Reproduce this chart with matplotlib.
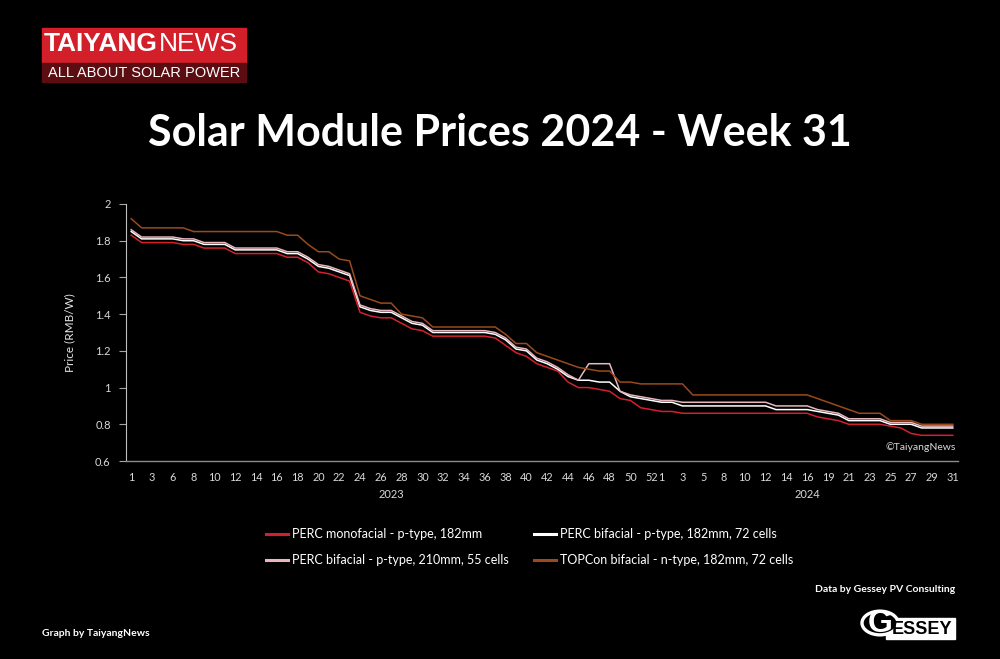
import matplotlib
matplotlib.use('Agg')
import matplotlib.pyplot as plt
from matplotlib.patches import Rectangle, Circle

# week labels: 2023 (one week missing around CNY) and 2024
weeks_2023 = [1, 2, 3, 5, 6, 7, 8, 9, 10, 11, 12, 13, 14, 15, 16, 17, 18, 19, 20,
              21, 22, 23, 24, 25, 26, 27, 28, 29, 30, 31, 32, 33, 34, 35, 36, 37,
              38, 39, 40, 41, 42, 43, 44, 45, 46, 47, 48, 49, 50, 51, 52]
weeks_2024 = [1, 2, 3, 4, 5, 7, 8, 9, 10, 11, 12, 13, 14, 15, 16, 18, 19, 20,
              21, 22, 23, 24, 25, 26, 27, 28, 29, 30, 31]
years = ['2023', '2024']

# prices RMB/W
perc_mono_182 = [1.83, 1.79, 1.79, 1.79, 1.79, 1.78, 1.78, 1.76, 1.76, 1.76,
                 1.73, 1.73, 1.73, 1.73, 1.73, 1.71, 1.71, 1.68, 1.63, 1.62,
                 1.60, 1.58, 1.41, 1.39, 1.38, 1.38, 1.35, 1.32, 1.31, 1.28,
                 1.28, 1.28, 1.28, 1.28, 1.28, 1.27, 1.23, 1.19, 1.17, 1.13,
                 1.11, 1.09, 1.03, 1.00, 1.00, 0.99, 0.98, 0.94, 0.93, 0.89,
                 0.88, 0.87, 0.87, 0.86, 0.86, 0.86, 0.86, 0.86, 0.86, 0.86,
                 0.86, 0.86, 0.86, 0.86, 0.86, 0.86, 0.84, 0.83, 0.82, 0.80,
                 0.80, 0.80, 0.80, 0.79, 0.78, 0.75, 0.74, 0.74, 0.74, 0.74]
perc_bif_182 = [1.85, 1.81, 1.81, 1.81, 1.81, 1.80, 1.80, 1.78, 1.78, 1.78,
                1.75, 1.75, 1.75, 1.75, 1.75, 1.73, 1.73, 1.70, 1.66, 1.65,
                1.63, 1.61, 1.44, 1.42, 1.41, 1.41, 1.38, 1.35, 1.34, 1.30,
                1.30, 1.30, 1.30, 1.30, 1.30, 1.29, 1.26, 1.21, 1.20, 1.15,
                1.13, 1.10, 1.06, 1.04, 1.04, 1.03, 1.03, 0.98, 0.95, 0.94,
                0.93, 0.92, 0.92, 0.90, 0.90, 0.90, 0.90, 0.90, 0.90, 0.90,
                0.90, 0.90, 0.88, 0.88, 0.88, 0.88, 0.87, 0.86, 0.85, 0.82,
                0.82, 0.82, 0.82, 0.80, 0.80, 0.80, 0.78, 0.78, 0.78, 0.78]
perc_bif_210 = [1.86, 1.82, 1.82, 1.82, 1.82, 1.81, 1.81, 1.79, 1.79, 1.79,
                1.76, 1.76, 1.76, 1.76, 1.76, 1.74, 1.74, 1.71, 1.67, 1.66,
                1.64, 1.62, 1.45, 1.43, 1.42, 1.42, 1.39, 1.36, 1.35, 1.31,
                1.31, 1.31, 1.31, 1.31, 1.31, 1.30, 1.27, 1.22, 1.21, 1.16,
                1.14, 1.11, 1.07, 1.04, 1.13, 1.13, 1.13, 0.98, 0.96, 0.95,
                0.94, 0.93, 0.93, 0.92, 0.92, 0.92, 0.92, 0.92, 0.92, 0.92,
                0.92, 0.92, 0.90, 0.90, 0.90, 0.90, 0.88, 0.87, 0.86, 0.83,
                0.83, 0.83, 0.83, 0.81, 0.81, 0.81, 0.79, 0.79, 0.79, 0.79]
topcon_182 = [1.92, 1.87, 1.87, 1.87, 1.87, 1.87, 1.85, 1.85, 1.85, 1.85,
              1.85, 1.85, 1.85, 1.85, 1.85, 1.83, 1.83, 1.78, 1.74, 1.74,
              1.70, 1.69, 1.50, 1.48, 1.46, 1.46, 1.40, 1.39, 1.38, 1.33,
              1.33, 1.33, 1.33, 1.33, 1.33, 1.33, 1.29, 1.24, 1.24, 1.19,
              1.17, 1.15, 1.13, 1.11, 1.10, 1.09, 1.09, 1.03, 1.03, 1.02,
              1.02, 1.02, 1.02, 1.02, 0.96, 0.96, 0.96, 0.96, 0.96, 0.96,
              0.96, 0.96, 0.96, 0.96, 0.96, 0.96, 0.94, 0.92, 0.90, 0.88,
              0.86, 0.86, 0.86, 0.82, 0.82, 0.82, 0.80, 0.80, 0.80, 0.80]

series_names = ['PERC monofacial - p-type, 182mm',
                'PERC bifacial - p-type, 182mm, 72 cells',
                'PERC bifacial - p-type, 210mm, 55 cells',
                'TOPCon bifacial - n-type, 182mm, 72 cells']
series_colors = ['#d4202c', '#ffffff', '#e8b6bc', '#9a4a1c']

y_ticks = [0.6, 0.8, 1.0, 1.2, 1.4, 1.6, 1.8, 2.0]
y_ticklabels = ['0.6', '0.8', '1', '1.2', '1.4', '1.6', '1.8', '2']

n23 = len(weeks_2023)
n24 = len(weeks_2024)
xs = list(range(n23 + n24))

W, H = 1000, 659
def fx(px):
    return px / W
def fy(py):
    return 1 - py / H

plt.rcParams['font.family'] = ['Lato', 'DejaVu Sans']
fig = plt.figure(figsize=(10, 6.59), dpi=100, facecolor='black')
ax = fig.add_axes([fx(126), fy(461), fx(958) - fx(126), fy(204) - fy(461)])
ax.set_facecolor('black')

all_series = [perc_mono_182, perc_bif_182, perc_bif_210, topcon_182]
# draw order: brown, red, pink, white so white stays visible
for i in [3, 0, 2, 1]:
    ax.plot(xs, all_series[i], color=series_colors[i], lw=1.1,
            label=series_names[i], zorder=3 + i)

ax.set_xlim(-0.5, n23 + n24 - 0.5)
ax.set_ylim(0.6, 2.0)
ax.set_yticks(y_ticks)
ax.set_yticklabels(y_ticklabels)

tick_pos = [i for i in range(0, n23, 2)] + [n23 + i for i in range(0, n24, 2)]
tick_lab = [str(weeks_2023[i]) for i in range(0, n23, 2)] + \
           [str(weeks_2024[i]) for i in range(0, n24, 2)]
ax.set_xticks(tick_pos)
ax.set_xticklabels(tick_lab)
ax.tick_params(axis='x', length=0, colors='#d9d9d9', labelsize=7.8, pad=8)
ax.tick_params(axis='y', length=5, width=0.8, color='#a6a6a6',
               colors='#d9d9d9', labelsize=8, pad=6)
ax.tick_params(axis='y', color='#a6a6a6')

for s in ['top', 'right']:
    ax.spines[s].set_visible(False)
ax.spines['left'].set_color('#bfbfbf')
ax.spines['left'].set_linewidth(0.8)
ax.spines['bottom'].set_color('#8c8c8c')
ax.spines['bottom'].set_linewidth(1.0)

# year labels under the week labels
ax.text((n23 - 1) / 2, -0.13, years[0], transform=ax.get_xaxis_transform(),
        ha='center', va='center', color='#d9d9d9', fontsize=8)
ax.text(n23 + (n24 - 1) / 2, -0.13, years[1], transform=ax.get_xaxis_transform(),
        ha='center', va='center', color='#d9d9d9', fontsize=8)

ax.set_ylabel('Price (RMB/W)', color='#e6e6e6', fontsize=8.5, labelpad=14)
ax.text(0.998, 0.055, '\u00a9TaiyangNews', transform=ax.transAxes, ha='right',
        va='center', color='#d9d9d9', fontsize=7.5)

# legend
handles, labels = ax.get_legend_handles_labels()
order = [labels.index(n) for n in [series_names[0], series_names[2],
                                   series_names[1], series_names[3]]]
leg = fig.legend([handles[k] for k in order], [labels[k] for k in order],
                 loc='center', bbox_to_anchor=(fx(530), fy(547)), ncol=2,
                 frameon=False, fontsize=9, handlelength=1.7,
                 handletextpad=0.4, columnspacing=2.0, labelspacing=1.1)
for t in leg.get_texts():
    t.set_color('white')
for h in leg.get_lines():
    h.set_linewidth(2.2)

# title
fig.text(fx(500), fy(133), 'Solar Module Prices 2024 - Week 31', ha='center',
         va='center', color='white', fontsize=31, fontweight='bold')

# TaiyangNews logo
fig.patches.append(Rectangle((fx(42), fy(63)), fx(246) - fx(42), fy(28) - fy(63),
                             transform=fig.transFigure, color='#d21f2a', zorder=1))
fig.patches.append(Rectangle((fx(42), fy(82)), fx(246) - fx(42), fy(63) - fy(82),
                             transform=fig.transFigure, color='#5c0d12', zorder=1))
t1 = fig.text(fx(44), fy(44), 'TAIYANG', ha='left', va='center', color='white',
              fontsize=19, fontweight='bold', family='Liberation Sans')
fig.canvas.draw()
bb = t1.get_window_extent()
fig.text(bb.x1 / W + 0.001, fy(44), 'NEWS', ha='left', va='center',
         color='white', fontsize=19, family='Liberation Sans')
fig.text(fx(144), fy(73), 'ALL ABOUT SOLAR POWER', ha='center', va='center',
         color='white', fontsize=10.5, family='Liberation Sans')

# credits
fig.text(fx(955), fy(590), 'Data by Gessey PV Consulting', ha='right',
         va='center', color='white', fontsize=7.5, fontweight='bold')
fig.text(fx(42), fy(634), 'Graph by TaiyangNews', ha='left', va='center',
         color='white', fontsize=7.5, fontweight='bold')

# Gessey logo (simplified)
fig.patches.append(Rectangle((fx(886), fy(639)), fx(955) - fx(886), fy(618) - fy(639),
                             transform=fig.transFigure, color='white', zorder=1))
fig.text(fx(922), fy(629), 'ESSEY', ha='center', va='center', color='black',
         fontsize=13, fontweight='bold', family='Liberation Sans',
         zorder=3)
fig.patches.append(Circle((fx(880), fy(623)), 0.018, transform=fig.transFigure,
                          facecolor='black', edgecolor='white', lw=2.4, zorder=2))
fig.text(fx(880), fy(624), 'G', ha='center', va='center', color='white',
         fontsize=23, fontweight='bold', family='Liberation Sans', zorder=4)

fig.savefig('out.png', dpi=100, facecolor='black')
